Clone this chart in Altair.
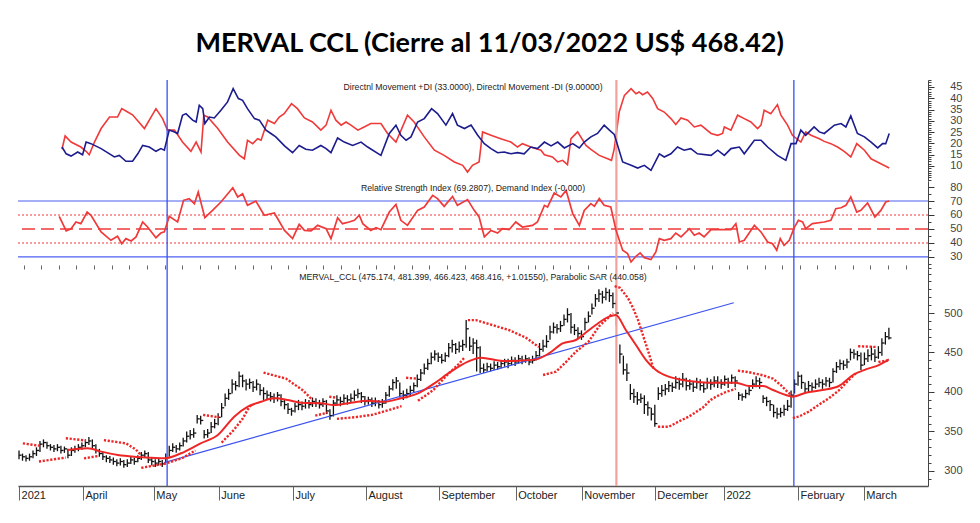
import altair as alt
import pandas as pd

TITLE = "MERVAL CCL (Cierre al 11/03/2022 US$ 468.42)"
DI_LABEL = "Directnl Movement +DI (33.0000), Directnl Movement -DI (9.00000)"
RSI_LABEL = "Relative Strength Index (69.2807), Demand Index (-0.000)"
PRICE_LABEL = "MERVAL_CCL (475.174, 481.399, 466.423, 468.416, +1.01550), Parabolic SAR (440.058)"

# x axis: trading-day index
month_labels = ["2021", "April", "May", "June", "July", "August", "September",
                "October", "November", "December", "2022", "February", "March"]
month_pos = [0, 18.3, 38.6, 57.2, 78.4, 99.3, 120.2, 142.2, 161.1, 182.0, 201.8, 223.0, 241.8]
week_ticks = [round(1.3 + 5.05 * k, 2) for k in range(51)]

# vertical marker lines
vline_pos = [42.4, 171.0, 221.8]
vline_kind = ["blue", "red", "blue"]

# daily bars
close = [
    320, 318, 316, 318, 322, 326, 334, 336, 332, 330,
    328, 330, 326, 328, 320, 326, 328, 330, 332, 336,
    338, 332, 326, 322, 318, 316, 314, 312, 310, 312,
    308, 310, 314, 312, 316, 320, 322, 314, 312, 310,
    312, 309, 316, 326, 330, 328, 332, 338, 344, 346,
    348, 366, 364, 346, 348, 356, 360, 368, 380, 392,
    398, 410, 408, 420, 414, 410, 412, 406, 410, 402,
    398, 396, 394, 392, 396, 388, 384, 378, 376, 382,
    384, 382, 386, 384, 388, 386, 384, 388, 376, 370,
    386, 390, 388, 392, 390, 392, 396, 398, 394, 388,
    390, 386, 388, 384, 386, 396, 404, 412, 414, 398,
    396, 398, 402, 408, 416, 424, 430, 436, 444, 448,
    444, 440, 446, 456, 460, 454, 458, 460, 480, 458,
    462, 456, 430, 428, 432, 430, 434, 432, 436, 438,
    436, 440, 438, 442, 440, 442, 438, 440, 446, 454,
    458, 464, 476, 482, 480, 484, 492, 498, 482, 478,
    474, 470, 488, 496, 506, 518, 524, 520, 526, 522,
    512, 500, 448, 428, 424, 398, 394, 390, 392, 384,
    380, 372, 360, 398, 402, 404, 408, 406, 412, 410,
    416, 408, 410, 406, 412, 408, 404, 412, 410, 414,
    412, 410, 416, 412, 418, 414, 396, 394, 398, 402,
    410, 414, 412, 392, 388, 384, 374, 372, 374, 378,
    382, 396, 410, 420, 412, 404, 408, 406, 410, 412,
    410, 414, 412, 426, 432, 436, 434, 438, 450, 448,
    446, 434, 442, 446, 448, 444, 450, 462, 470, 468.42,
]
high = [
    326, 322, 320, 322, 326, 330, 338, 340, 337, 334,
    333, 334, 332, 331, 328, 330, 332, 334, 336, 340,
    343, 340, 334, 328, 324, 320, 319, 317, 315, 316,
    314, 315, 318, 317, 320, 324, 326, 324, 317, 315,
    316, 314, 322, 332, 335, 333, 336, 342, 350, 352,
    354, 371, 370, 352, 353, 362, 366, 373, 386, 398,
    404, 416, 414, 426, 422, 416, 417, 414, 416, 410,
    406, 402, 400, 398, 400, 397, 390, 386, 380, 386,
    390, 388, 391, 390, 393, 392, 390, 392, 390, 378,
    390, 396, 394, 397, 396, 398, 402, 404, 400, 395,
    394, 393, 393, 390, 391, 400, 408, 416, 419, 412,
    402, 404, 408, 412, 422, 429, 436, 442, 450, 453,
    450, 448, 450, 462, 466, 462, 464, 466, 491, 470,
    468, 466, 458, 436, 437, 436, 439, 438, 440, 442,
    442, 445, 444, 447, 446, 447, 444, 446, 452, 462,
    466, 472, 484, 488, 486, 490, 498, 506, 500, 486,
    482, 478, 494, 502, 512, 524, 530, 528, 532, 530,
    526, 516, 460, 446, 436, 410, 404, 400, 398, 396,
    388, 380, 384, 406, 409, 410, 414, 412, 420, 418,
    424, 418, 416, 414, 418, 416, 412, 418, 416, 420,
    420, 416, 421, 418, 422, 420, 400, 398, 403, 407,
    416, 420, 418, 396, 394, 390, 384, 380, 380, 384,
    390, 402, 416, 426, 422, 412, 414, 412, 416, 418,
    416, 419, 418, 430, 438, 441, 440, 442, 455, 454,
    452, 450, 450, 454, 458, 454, 458, 468, 476, 481.4,
]
low = [
    315, 313, 312, 313, 316, 319, 324, 330, 328, 326,
    324, 325, 322, 323, 316, 319, 323, 325, 327, 330,
    333, 329, 322, 318, 314, 311, 310, 308, 306, 307,
    304, 305, 309, 308, 311, 314, 317, 310, 307, 305,
    307, 305, 310, 318, 324, 323, 326, 331, 336, 340,
    342, 360, 359, 341, 342, 348, 354, 358, 368, 382,
    390, 398, 402, 406, 406, 402, 404, 400, 402, 396,
    390, 390, 388, 386, 388, 382, 378, 372, 370, 374,
    377, 377, 379, 379, 381, 381, 379, 381, 372, 365,
    369, 383, 382, 385, 384, 386, 389, 392, 386, 383,
    384, 381, 382, 379, 380, 385, 394, 402, 404, 393,
    390, 392, 394, 400, 406, 414, 422, 428, 435, 440,
    438, 436, 438, 444, 450, 448, 450, 452, 456, 452,
    448, 426, 424, 424, 426, 426, 428, 428, 430, 432,
    430, 434, 433, 436, 435, 437, 434, 436, 440, 445,
    451, 456, 466, 474, 474, 476, 484, 488, 474, 472,
    468, 466, 478, 488, 498, 508, 514, 512, 516, 514,
    506, 484, 436, 422, 414, 390, 386, 384, 386, 372,
    370, 364, 356, 390, 394, 396, 400, 400, 404, 403,
    406, 402, 403, 400, 404, 402, 399, 404, 403, 406,
    405, 404, 408, 405, 410, 406, 390, 389, 392, 396,
    404, 406, 404, 386, 382, 376, 368, 366, 368, 370,
    376, 380, 398, 408, 404, 398, 400, 400, 404, 406,
    404, 407, 406, 412, 424, 428, 428, 430, 440, 442,
    440, 428, 434, 438, 440, 438, 442, 446, 460, 466.4,
]

# moving average (red line in the price panel): (day index, value)
ma_points = [
    (14, 326.6), (19.7, 328.7), (23.5, 324.5), (28.3, 320.3), (33, 318.1), (37.8, 316.9),
    (41.6, 316), (46.4, 322.4), (52, 335), (56.9, 345.6), (61.6, 368.8), (65.5, 381.4),
    (69.3, 387.7), (73, 392), (77, 389.9), (80.7, 386.5), (86.4, 385.7), (90.2, 383.5),
    (95, 386.5), (99.9, 389), (104.5, 387.7), (109.3, 392), (114.2, 398.3), (118.9, 411),
    (123.6, 425.7), (128.5, 438.4), (132.2, 443.5), (138.5, 439.2), (143.1, 439.6),
    (148, 441.3), (151.7, 448.9), (155.6, 461.6), (159.4, 465.8), (161.4, 472.2),
    (165.1, 484.8), (168.9, 495.4), (170.8, 497.5), (173.7, 478.5), (176.6, 459.5),
    (179.5, 440.5), (182.3, 427.8), (186, 419.4), (190, 415.2), (193.8, 413), (198, 411.8),
    (205.2, 411.8), (209, 407.6), (213, 407.6), (215.8, 402.5), (219.5, 396.2),
    (221.4, 394.1), (225.2, 399.1), (230, 402.5), (234.7, 407.6), (238.7, 421.5),
    (242.4, 428.6), (246.1, 434.1), (249, 441.3),
]

# parabolic SAR, one list per run
sar_runs = [
    [(1.1, 335), (5.7, 332)],
    [(5.7, 312), (13.4, 317)],
    [(13.4, 341.5), (19.2, 338.5)],
    [(18.6, 316), (22.6, 319)],
    [(24.3, 339), (30.6, 335), (33.5, 327), (34.9, 320)],
    [(35, 304), (42, 309.5), (46.6, 316), (50.5, 326)],
    [(52.7, 371), (57.2, 368)],
    [(58, 336), (61.5, 352), (64, 366), (65.5, 378), (66.5, 384)],
    [(70, 424.5), (76.4, 417), (81.3, 402), (84, 390)],
    [(84.8, 370), (88.4, 374)],
    [(88.8, 394), (90.7, 393)],
    [(91, 366), (96, 368), (101, 371), (105, 376), (109.5, 382)],
    [(110.8, 418), (113.6, 417)],
    [(114.2, 389), (118.5, 402), (122.2, 420), (126, 436), (127.4, 443)],
    [(128.5, 491), (130.8, 491), (140.2, 478.5), (145, 469), (148.8, 457)],
    [(150, 421.5), (153.7, 425.7), (156.6, 438), (159.4, 451), (163.1, 464), (166, 483),
     (168.9, 495), (170, 500)],
    [(170.5, 534), (172, 532), (174.3, 519), (175.7, 507), (177.2, 491), (178.6, 472),
     (180.3, 449), (181.7, 428)],
    [(182.9, 356), (186, 356), (189, 363), (191.8, 369), (195.7, 380), (198, 390),
     (199.5, 394), (202.3, 400), (205.2, 404)],
    [(205.8, 427), (209, 425), (213, 421), (215.8, 417), (218, 409), (220, 400), (221.2, 396)],
    [(221.5, 367), (223.3, 369), (226, 375), (229, 384), (231.8, 392), (234.7, 402),
     (237.5, 415), (239.6, 424)],
    [(240.2, 458), (245.5, 457)],
    [(246, 438), (249, 440.1)],
]

# trend line
trend_points = [(41.5, 310.5), (204.6, 513)]

# directional movement +DI / -DI
di_plus = [
    (12.3, 18.4), (13.5, 15.4), (14.9, 14.4), (16.8, 16.2), (18.2, 15), (19.2, 20.6),
    (20.6, 19.9), (23.5, 17.7), (27.3, 14), (28.7, 14.7), (30.6, 12.1), (32.5, 12.1),
    (34.0, 15.4), (35.4, 19.1), (37.3, 18.4), (39.2, 16.5), (40.6, 17.7), (41.6, 17),
    (43.0, 25.9), (44.5, 25.1), (45.4, 24.4), (46.8, 32.5), (47.8, 33.2), (49.7, 30.3),
    (50.7, 29.5), (51.6, 36.9), (52.6, 35.4), (53.2, 28.8), (54.5, 31.7), (55.9, 31.3),
    (57.8, 34.7), (59.7, 38.4), (61.3, 44.3), (62.8, 39.9), (64.0, 39.1), (65.4, 35.4),
    (67.4, 31), (68.8, 30.3), (70.7, 25.9), (72.1, 24.4), (73.5, 22.9), (76.0, 18.9),
    (78.3, 15.9), (80.2, 19.1), (82.1, 17.4), (84.0, 17), (86.4, 19.1), (87.9, 17.7),
    (89.3, 15.9), (91.2, 22.4), (93.1, 20.6), (95.5, 19.1), (97.9, 20.6), (99.8, 18.4),
    (103.6, 14.7), (106.0, 24.4), (107.9, 28.1), (109.3, 23.6), (110.8, 21.4),
    (112.2, 22.9), (114.1, 29.5), (116.0, 31), (118.1, 35.4), (119.8, 33.2), (122.2, 28.1),
    (124.1, 33.2), (125.5, 28.1), (127.5, 26.6), (129.4, 28.1), (131.3, 23.6),
    (133.2, 19.9), (135.1, 17.7), (137.0, 15.9), (138.9, 16.2), (140.8, 15.4),
    (142.7, 15.9), (144.6, 15.4), (146.5, 18.4), (148.4, 17.7), (150.4, 20.6),
    (152.3, 18.9), (154.2, 20.6), (156.1, 18), (158.5, 19.9), (160.4, 18), (161.8, 20.6),
    (163.7, 22.9), (165.6, 24.4), (167.5, 28.1), (169.0, 25.9), (170.4, 24), (172.8, 11.8),
    (175.2, 10.3), (177.1, 9.1), (179.0, 10.3), (180.9, 8.1), (183.3, 15.4), (184.7, 14),
    (186.6, 15.4), (188.5, 18.4), (190.4, 17), (192.3, 17.7), (194.2, 15.4), (198.1, 14.7),
    (200.0, 17), (201.9, 14.7), (203.8, 17.7), (206.2, 18.4), (207.6, 15.4), (210.5, 21.4),
    (212.4, 21.4), (214.3, 18.4), (217.1, 14.7), (219.5, 12.5), (221.0, 19.9),
    (222.4, 19.9), (223.8, 25.9), (225.2, 23.6), (227.6, 27.3), (229.1, 25.1),
    (230.5, 24.4), (233.4, 28.1), (235.3, 28.8), (236.7, 27.3), (238.1, 32.2),
    (240.0, 24.4), (242.0, 22.9), (243.9, 20.6), (245.8, 18), (247.2, 19.9),
    (248.1, 19.9), (249.1, 24.4),
]
di_minus = [
    (12.3, 17.4), (13.2, 23.3), (14.9, 20.6), (17.7, 18.4), (19.2, 16.5), (20.1, 15),
    (21.6, 20.6), (23.5, 26.6), (25.9, 31.7), (28.2, 31.7), (29.4, 35.4), (31.1, 33.9),
    (32.5, 32.7), (35.9, 26.6), (39.2, 35.4), (41.1, 31), (42.5, 25.9), (44.5, 25.9),
    (46.8, 20.6), (49.2, 16.5), (50.7, 20.6), (52.1, 16.2), (52.9, 32.5), (54.0, 31.7),
    (56.9, 26.6), (59.7, 20.6), (63.1, 14.7), (64.5, 13.2), (65.4, 21.4), (66.9, 19.9),
    (68.3, 22.1), (69.3, 21.4), (71.2, 30.3), (73.1, 28.8), (74.5, 31.7), (75.9, 33.2),
    (78.0, 37.6), (79.7, 35.4), (81.7, 31.3), (84.0, 29.5), (86.4, 25.9), (87.9, 28.1),
    (89.3, 34.7), (90.7, 30.3), (92.2, 28.1), (93.6, 29.5), (95.0, 28.1), (97.0, 25.9),
    (98.8, 27.3), (100.7, 28.8), (103.6, 28.8), (105.5, 24.4), (107.9, 20.6),
    (111.2, 32.5), (113.1, 29.5), (116.0, 22.9), (118.9, 17), (121.7, 14.7),
    (124.6, 11.8), (127.0, 10.3), (128.4, 7.3), (129.8, 10.3), (131.7, 11.8),
    (132.7, 25.1), (135.1, 23.6), (137.9, 22.1), (140.8, 20.6), (142.7, 18.4),
    (144.1, 19.9), (146.5, 18.4), (149.4, 17), (150.4, 15), (152.7, 14), (154.2, 11.8),
    (155.6, 12.5), (157.0, 10.6), (158.0, 22.1), (159.9, 25.1), (162.3, 19.1),
    (163.7, 17.4), (166.1, 14.7), (168.5, 13.2), (169.6, 12.5), (170.4, 17.7),
    (171.8, 33.9), (173.3, 41.3), (175.2, 44.3), (176.6, 42), (177.5, 42.8),
    (178.5, 41.6), (179.9, 42.8), (181.4, 39.9), (182.8, 35.4), (184.7, 33.9),
    (186.6, 31), (188.0, 28.4), (189.5, 31.3), (191.4, 30.3), (193.3, 27.3),
    (195.2, 28.1), (198.1, 24.4), (200.0, 23.6), (201.4, 24.4), (201.9, 27.3),
    (203.8, 25.9), (205.7, 32.5), (207.6, 31), (209.5, 29.5), (211.4, 26.6),
    (212.4, 28.1), (213.3, 34.7), (215.2, 33.2), (217.1, 37.2), (218.1, 32.5),
    (220.0, 28.1), (221.4, 23.6), (223.8, 20.6), (225.2, 25.1), (226.7, 23.6),
    (229.1, 22.1), (230.5, 20.9), (232.4, 19.9), (234.3, 18.4), (236.2, 16.5),
    (238.1, 14), (239.8, 19.9), (242.0, 17), (243.9, 13.2), (246.7, 11), (249.1, 9.1),
]

# relative strength index
rsi_points = [
    (11.5, 59), (13.5, 48.6), (14.9, 50.2), (16.3, 55), (17.7, 53.8), (19.5, 62.1),
    (20.6, 59.8), (23.5, 47.9), (26.3, 41.9), (28.2, 44.8), (29.4, 39.5), (30.6, 43.1),
    (32.1, 41.4), (33.5, 44.3), (35.4, 55), (36.8, 51.4), (39.2, 43.8), (40.6, 47.1),
    (41.6, 47.9), (43.0, 59), (45.4, 55), (47.1, 70.5), (48.7, 71.7), (50.2, 68.1),
    (51.3, 76.4), (53.2, 58.1), (55.4, 63.3), (57.8, 69.3), (61.2, 79.5), (62.6, 72.9),
    (64.0, 75.2), (65.4, 66.9), (67.8, 70), (70.2, 59.8), (73.1, 61.4), (76.0, 49),
    (78.3, 43.1), (80.2, 53.3), (81.7, 49), (83.6, 48.6), (85.5, 52.6), (87.9, 50.2),
    (89.3, 43.1), (91.2, 58.1), (92.6, 53.8), (94.5, 55), (96.0, 56.2), (97.4, 59.8),
    (98.4, 53.8), (100.7, 49), (102.2, 51), (103.6, 49.5), (106.0, 62.1), (107.9, 67.6),
    (109.3, 56.2), (111.2, 52.6), (114.1, 63.3), (116.0, 65.7), (118.4, 74), (119.8, 71.7),
    (121.7, 66.2), (124.1, 73.3), (125.5, 66.9), (128.4, 71), (130.3, 63.3), (131.7, 58.6),
    (133.2, 44.3), (135.1, 49), (137.0, 47.1), (138.4, 50.2), (140.3, 49.5), (142.2, 55),
    (144.1, 51.4), (147.0, 52.6), (148.4, 55), (150.4, 66.9), (151.3, 65.7), (153.2, 75.7),
    (155.1, 72.9), (156.6, 77.6), (158.5, 61), (160.4, 52.6), (161.8, 63.3), (163.7, 68.1),
    (164.7, 66.2), (166.1, 71.7), (167.5, 66.9), (169.4, 65.7), (170.9, 49), (172.8, 34.8),
    (174.2, 32.4), (175.2, 26.4), (176.6, 30.5), (177.8, 32.9), (179.0, 29.5),
    (180.9, 28.1), (182.3, 33.6), (183.3, 43.1), (184.7, 41.9), (186.6, 43.1), (188.0, 47.1),
    (189.5, 44.3), (191.9, 50.2), (193.3, 45.5), (194.7, 47.1), (196.1, 44.3), (198.1, 49.5),
    (201.9, 49.5), (203.8, 49.5), (205.2, 53.8), (206.2, 40.7), (207.6, 41.9), (210.5, 52.6),
    (212.4, 47.9), (214.3, 40.7), (215.7, 39.5), (216.9, 34.8), (217.9, 43.1), (219.0, 38.3),
    (220.5, 41.9), (221.9, 51), (223.1, 56.2), (224.3, 55), (225.2, 50.2), (227.1, 53.8),
    (230.5, 55), (232.4, 56.2), (233.8, 64.5), (235.3, 65.2), (236.7, 66.9), (238.1, 72.9),
    (239.8, 62.1), (241.0, 63.3), (242.9, 68.6), (245.0, 58.6), (246.7, 63.3), (248.1, 69.3),
    (249.1, 70),
]

rsi_levels = [70, 30, 60, 40, 50]
rsi_level_kind = ["band", "band", "dotted", "dotted", "mid"]

# ---------------------------------------------------------------- layout
W = 910
X_DOM = [-0.29, 260.2]
FONT = "Liberation Sans"
RED = "#f03a3a"
NAVY = "#1c1c8e"
BLUE = "#3b52f0"
AXC = "#555555"


def pts(points, **extra):
    df = pd.DataFrame(points, columns=["i", "v"])
    for k, val in extra.items():
        df[k] = val
    return df


xs = alt.Scale(domain=X_DOM, nice=False, zero=False)
x_plain = alt.X("i:Q", scale=xs, title=None,
                axis=alt.Axis(labels=False, ticks=False, grid=False, domain=True,
                              domainColor=AXC, domainWidth=1.5))
x_none = alt.X("i:Q", scale=xs, axis=None)


def y_axes(values, minor):
    major = alt.Axis(orient="right", values=values, grid=False, title=None, tickSize=6,
                     tickColor="#333", domainColor="#444", labelAlign="right",
                     labelPadding=28, labelFont=FONT, labelFontSize=11, labelColor="#444")
    mnr = alt.Axis(orient="right", values=minor, grid=False, title=None, tickSize=3,
                   tickColor="#444", domain=False, labels=False)
    return major, mnr


vl_df = pd.DataFrame({"i": vline_pos, "k": vline_kind})


def vlines():
    blue = alt.Chart(vl_df[vl_df.k == "blue"]).mark_rule(color="#3650f5", strokeWidth=1.3).encode(
        x=x_none)
    red = alt.Chart(vl_df[vl_df.k == "red"]).mark_rule(color="#f2a29c", strokeWidth=2.2).encode(
        x=x_none)
    return alt.layer(blue, red)


def label(txt, yy):
    return alt.Chart(pd.DataFrame({"t": [txt]})).mark_text(
        font=FONT, fontSize=8.7, color="#222", align="center", baseline="middle"
    ).encode(x=alt.value(W / 2), y=alt.value(yy), text="t:N")


# ---- DI panel
di_dom = alt.Scale(domain=[3.35, 48.1], nice=False, zero=False)
di_major, di_minor = y_axes([10, 15, 20, 25, 30, 35, 40, 45], list(range(4, 49)))
di_minus_line = alt.Chart(pts(di_minus)).mark_line(strokeWidth=1.6, color=RED, clip=True).encode(
    x=x_plain, y=alt.Y("v:Q", scale=di_dom, axis=di_major))
di_plus_line = alt.Chart(pts(di_plus)).mark_line(strokeWidth=1.6, color=NAVY, clip=True).encode(
    x=x_none, y=alt.Y("v:Q", scale=di_dom, axis=None))
di_ticks = alt.Chart(pd.DataFrame({"v": [10]})).mark_tick(opacity=0).encode(
    y=alt.Y("v:Q", scale=di_dom, axis=di_minor))
di_panel = alt.layer(di_minus_line, vlines(), di_plus_line, di_ticks, label(DI_LABEL, 7)).resolve_axis(
    y="independent").properties(width=W, height=101)

# ---- RSI panel
rsi_dom = alt.Scale(domain=[21.4, 84.3], nice=False, zero=False)
rsi_major, rsi_minor = y_axes([30, 40, 50, 60, 70, 80], [25, 35, 45, 55, 65, 75, 22])
lev_df = pd.DataFrame({"v": rsi_levels, "k": rsi_level_kind})
lev_band = alt.Chart(lev_df[lev_df.k == "band"]).mark_rule(strokeWidth=1.2, color="#4c60f2").encode(
    y=alt.Y("v:Q", scale=rsi_dom, axis=rsi_major))
lev_dot = alt.Chart(lev_df[lev_df.k == "dotted"]).mark_rule(
    strokeWidth=1.1, color=RED, strokeDash=[2, 2]).encode(y=alt.Y("v:Q", scale=rsi_dom, axis=None))
lev_mid = alt.Chart(lev_df[lev_df.k == "mid"]).mark_rule(
    strokeWidth=1.3, color=RED, strokeDash=[13, 6]).encode(y=alt.Y("v:Q", scale=rsi_dom, axis=None))
rsi_line = alt.Chart(pts(rsi_points)).mark_line(color=RED, strokeWidth=1.7, clip=True).encode(
    x=x_plain, y=alt.Y("v:Q", scale=rsi_dom, axis=None))
rsi_ticks = alt.Chart(pd.DataFrame({"v": [50]})).mark_tick(opacity=0).encode(
    y=alt.Y("v:Q", scale=rsi_dom, axis=rsi_minor))
rsi_panel = alt.layer(lev_band, lev_dot, lev_mid, vlines(), rsi_line, rsi_ticks,
                      label(RSI_LABEL, 6.5)).resolve_axis(
    y="independent").properties(width=W, height=88)

# ---- price panel
p_dom = alt.Scale(domain=[281, 555.7], nice=False, zero=False)
p_major, p_minor = y_axes([300, 350, 400, 450, 500], list(range(290, 556, 10)))
n = len(close)
bars_df = pd.DataFrame({"i": list(range(n)), "c": close, "h": high, "l": low})
bars_df["ir"] = bars_df["i"] + 0.75

label_expr = " : ".join(
    f"datum.value == {p} ? '{t}'" for p, t in zip(month_pos, month_labels)) + " : ''"
x_month = alt.X("i:Q", scale=xs, title=None,
                axis=alt.Axis(values=month_pos, labelExpr=label_expr, grid=False, tickSize=14,
                              tickColor="#666", domainColor=AXC, domainWidth=1.5,
                              labelAlign="left", labelBaseline="top", labelPadding=-11,
                              labelOffset=2, labelFont=FONT, labelFontSize=11, labelColor="#222",
                              labelOverlap=False, labelFlush=False))
x_week = alt.X("i:Q", scale=xs, title=None,
               axis=alt.Axis(values=week_ticks, labels=False, grid=False, tickSize=4,
                             tickColor="#666", domain=False))

bars = alt.Chart(bars_df).mark_rule(color="#111", strokeWidth=1.3, clip=True).encode(
    x=x_month, y=alt.Y("l:Q", scale=p_dom, axis=p_major), y2="h:Q")
cticks = alt.Chart(bars_df).mark_rule(color="#111", strokeWidth=1.3, clip=True).encode(
    x=x_none, x2="ir:Q", y=alt.Y("c:Q", scale=p_dom, axis=None))
week_layer = alt.Chart(pd.DataFrame({"i": [0], "v": [400]})).mark_tick(opacity=0).encode(
    x=x_week, y=alt.Y("v:Q", scale=p_dom, axis=p_minor))
trend = alt.Chart(pts(trend_points)).mark_line(color=BLUE, strokeWidth=1.2, clip=True).encode(
    x=x_none, y=alt.Y("v:Q", scale=p_dom, axis=None))
ma = alt.Chart(pts(ma_points)).mark_line(
    color="#ee2626", strokeWidth=2, interpolate="monotone", clip=True).encode(
    x=x_none, y=alt.Y("v:Q", scale=p_dom, axis=None))
sar_df = pd.concat([pts(run, g=k) for k, run in enumerate(sar_runs)])
sar = alt.Chart(sar_df).mark_line(
    color="#ee2626", strokeWidth=2.4, strokeDash=[2.2, 1.6], clip=True).encode(
    x=x_none, y=alt.Y("v:Q", scale=p_dom, axis=None), detail="g:N")

price_panel = alt.layer(bars, vlines(), trend, cticks, ma, sar, week_layer,
                        label(PRICE_LABEL, 8)).resolve_axis(
    y="independent", x="independent").properties(width=W, height=217)

chart = alt.vconcat(di_panel, rsi_panel, price_panel, spacing=0, bounds="flush").properties(
    title=alt.TitleParams(TITLE, font="Lato", fontSize=27, fontWeight="bold", color="#000",
                          anchor="middle", offset=21),
    padding={"left": 17, "top": 29, "right": 10, "bottom": 5},
).configure_view(stroke=None).configure_concat(spacing=0)

chart.save("out.html", embed_options={"renderer": "svg", "actions": False})
